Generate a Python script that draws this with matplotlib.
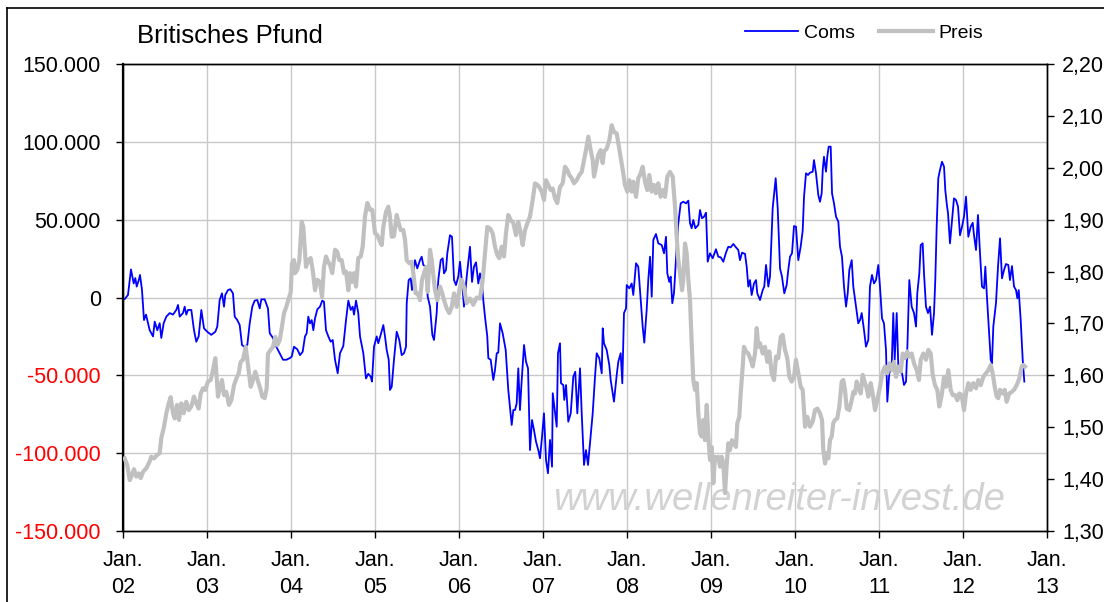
import matplotlib
matplotlib.use("Agg")
import matplotlib.pyplot as plt
from matplotlib.lines import Line2D

plt.rcParams['font.family'] = ['Liberation Sans', 'DejaVu Sans']

# ==== data: x = months since Jan. 2002 ====
# Coms in thousand contracts
coms = [(0.24,-1),(0.71,1.6),(1.14,18),(1.53,9),(1.76,12.5),(1.96,7),(2.24,11),(2.43,14.5),(2.71,5),(3.0,-14.5),(3.29,-11),(3.81,-21),(4.29,-25),(4.53,-15.5),(4.9,-21),(5.24,-16.5),(5.47,-26),(5.81,-16.5),(6.19,-12.3),(6.67,-10),(7.14,-11),(7.61,-8),(7.86,-4.8),(8.1,-12.3),(8.57,-10),(8.81,-5.9),(9.04,-11),(9.29,-8),(9.76,-8),(10.14,-21),(10.47,-28.4),(10.81,-25),(11.19,-8),(11.57,-19.8),(12.04,-22),(12.61,-24),(13.19,-22),(13.47,-18.7),(13.81,-1.6),(14.14,2.7),(14.43,-5.9),(14.61,1.6),(15.0,4.8),(15.33,5.3),(15.71,2.7),(15.96,-12.3),(16.33,-14.5),(16.67,-17.7),(17.0,-30.5),(17.29,-31.6),(17.76,-30.5),(18.1,-16.6),(18.47,-5.9),(18.81,-2),(19.19,-1.6),(19.53,-7),(19.76,-1.2),(20.24,-1.2),(20.71,-7),(20.96,-23),(21.43,-26),(21.9,-31.6),(22.14,-33.7),(22.39,-35.8),(22.86,-40),(23.33,-40),(23.81,-39),(24.1,-38),(24.43,-31.6),(24.9,-33.3),(25.29,-37),(25.67,-34.8),(26.0,-25),(26.24,-23),(26.47,-12.3),(26.71,-16.6),(26.96,-14.5),(27.19,-21),(27.43,-13.4),(27.76,-7.6),(28.14,-5.9),(28.47,-2),(28.71,-2.7),(29.0,-21),(29.33,-25),(29.67,-28.4),(29.96,-27.3),(30.29,-40),(30.67,-48.7),(31.0,-35.8),(31.47,-31.2),(31.86,-14.5),(32.19,-2),(32.53,-8),(32.81,-5.9),(33.0,-11),(33.29,-2),(33.61,-10),(33.86,-25),(34.33,-35.8),(34.71,-52),(35.04,-49),(35.39,-50.9),(35.57,-54),(35.86,-31.6),(36.24,-25),(36.47,-29.4),(36.81,-24),(37.19,-17.7),(37.43,-25),(37.67,-33.7),(37.96,-40),(38.14,-59.4),(38.39,-57.3),(38.71,-40),(39.1,-22),(39.47,-27.3),(39.81,-37),(40.14,-35.8),(40.43,-31.6),(40.53,-3.7),(40.81,11.2),(41.1,12.3),(41.29,4.8),(41.47,15.5),(41.71,24),(42.04,18.7),(42.43,24),(42.67,26.2),(42.9,20.9),(43.29,19.8),(43.53,0.5),(43.86,-5.9),(44.19,-24),(44.43,-27.3),(44.81,-10),(45.04,11.2),(45.39,24),(45.67,25.2),(45.86,15.5),(46.14,17.7),(46.33,28.4),(46.71,40),(47.0,39),(47.29,11.2),(47.57,8),(47.9,13.4),(48.14,23),(48.53,4.8),(48.71,-5.9),(49.1,13.4),(49.57,32.6),(49.86,10),(50.14,19.8),(50.43,22.6),(50.76,9),(51.0,15.5),(51.24,11.2),(51.47,-1.6),(51.71,-12.3),(52.04,-25),(52.19,-39),(52.53,-40),(52.9,-53),(53.14,-46.6),(53.39,-35.8),(53.61,-35.4),(53.86,-16.6),(54.24,-23),(54.67,-33.7),(55.04,-59.4),(55.53,-81.9),(55.76,-72.3),(56.0,-72.3),(56.24,-68),(56.47,-45.5),(56.71,-72.3),(56.96,-53),(57.29,-30.5),(57.57,-41.2),(57.86,-45.5),(58.14,-98),(58.43,-78.7),(58.71,-85.1),(59.0,-92.6),(59.33,-98),(59.57,-103.3),(59.86,-89.4),(60.14,-74.4),(60.43,-104.4),(60.71,-112.9),(61.0,-91.5),(61.29,-108.7),(61.39,-61.5),(61.67,-72.3),(61.96,-83),(62.14,-35.8),(62.43,-29.4),(62.57,-55.1),(62.9,-56.2),(63.04,-65.8),(63.29,-56.2),(63.61,-79.8),(63.96,-74.4),(64.33,-50.9),(64.61,-47.7),(64.9,-74.4),(65.29,-45.5),(65.53,-74.4),(65.86,-107.6),(66.14,-98),(66.43,-107.6),(66.71,-93.7),(67.1,-74.4),(67.43,-50.9),(67.67,-35.8),(68.04,-39),(68.39,-48.7),(68.53,-19.8),(68.71,-29.4),(69.1,-33.7),(69.47,-43.4),(69.67,-53),(70.14,-66.9),(70.53,-49.8),(70.76,-41.2),(71.1,-35.8),(71.33,-55.1),(71.57,-10),(71.86,-7),(71.96,8),(72.33,5.9),(72.67,9),(72.9,1.6),(73.29,22),(73.61,19.8),(73.96,-1.6),(74.24,-18.7),(74.47,-29),(74.81,-8),(75.04,11.2),(75.29,26.2),(75.53,0.5),(75.76,37),(76.14,40.8),(76.47,34.8),(76.96,33.7),(77.29,28.4),(77.57,39),(77.76,15.5),(78.04,10),(78.24,13.4),(78.47,-3.7),(78.71,2.7),(79.1,32.6),(79.33,47.7),(79.67,60.5),(80.04,61.5),(80.43,60.5),(80.76,62.2),(81.0,47.7),(81.24,44.5),(81.47,49.8),(81.76,44.5),(82.19,46.6),(82.43,56.2),(82.71,50.9),(83.0,51.9),(83.29,54.5),(83.53,23),(83.86,28.4),(84.24,25.2),(84.71,31),(85.04,26.2),(85.39,25.8),(85.76,23),(86.14,28.8),(86.47,32.6),(86.81,32.2),(87.19,34.4),(87.57,32.2),(87.9,30.5),(88.14,24),(88.43,28.8),(88.86,28),(89.1,19.8),(89.33,7),(89.57,11.2),(89.81,1.6),(90.14,9),(90.43,11.2),(90.61,2.7),(91.0,-1.6),(91.39,4.8),(91.61,7),(91.86,20.9),(92.19,7),(92.43,13.4),(92.81,57.3),(93.24,76.6),(93.53,57.3),(93.86,18.7),(94.14,13.4),(94.47,2.7),(94.81,8),(95.04,17.7),(95.29,26.2),(95.57,28.4),(95.86,45.9),(96.14,45.5),(96.47,24),(96.81,32.6),(97.1,43),(97.29,64.8),(97.57,79.8),(97.86,78.7),(98.14,80.2),(98.53,80.8),(98.71,88.3),(99.0,79.8),(99.33,65.8),(99.57,61.5),(99.81,66.9),(99.96,81.9),(100.14,90.4),(100.43,80.8),(100.61,90.4),(100.81,96.9),(101.1,96.9),(101.29,66.9),(101.57,60.5),(101.86,51.9),(102.19,48.7),(102.43,32.6),(102.71,26.2),(103.0,7),(103.29,-5.9),(103.53,2.7),(103.76,17.7),(104.1,24),(104.33,7),(104.71,-5.9),(105.04,-16.6),(105.29,-14.5),(105.53,-10),(105.86,-21),(106.14,-31.6),(106.47,-27.3),(106.71,7),(107.0,14.5),(107.29,9),(107.57,11.2),(107.9,20.9),(108.14,7),(108.43,-13.4),(108.71,-16.6),(109.0,-33.7),(109.19,-66.9),(109.47,-48.7),(109.81,-44.5),(110.04,-10),(110.24,-40),(110.53,-10),(110.76,-44.5),(111.0,-47.7),(111.29,-48.7),(111.57,-56.2),(111.86,-54),(112.04,-33.7),(112.33,11.2),(112.67,-5.9),(113.0,-10),(113.29,-18.7),(113.47,2.7),(113.76,15.5),(113.96,33.7),(114.24,34.8),(114.43,15.5),(114.71,-5.9),(115.0,-10),(115.29,-5.9),(115.57,-24),(115.86,-10),(116.04,11.2),(116.24,45.5),(116.47,76.6),(116.71,81.9),(117.0,87.2),(117.29,84),(117.47,69),(117.67,60.5),(117.86,54.1),(118.14,34.8),(118.39,47.7),(118.71,63.7),(119.0,62.6),(119.29,58.3),(119.57,40),(119.86,45.5),(120.14,51.9),(120.43,64.8),(120.76,39),(121.1,45.5),(121.39,48),(121.57,40),(121.86,30.5),(122.14,53),(122.43,28.4),(122.71,7),(123.0,5.9),(123.19,19.8),(123.39,2.7),(123.67,-18.7),(123.96,-40),(124.14,-42.3),(124.33,-18.7),(124.71,-3.7),(125.0,19.8),(125.29,38),(125.57,12.3),(125.86,17.7),(126.14,21.5),(126.47,20.9),(126.71,11.2),(127.0,20.2),(127.29,7),(127.57,4.8),(127.76,-0.5),(127.96,4.8),(128.24,-14.5),(128.53,-40),(128.76,-54)]

# GBP/USD price
preis = [(0.24,1.440),(0.61,1.427),(0.96,1.398),(1.29,1.408),(1.57,1.419),(1.9,1.405),(2.24,1.411),(2.53,1.402),(2.86,1.414),(3.33,1.421),(3.81,1.434),(4.04,1.443),(4.43,1.440),(4.76,1.445),(5.24,1.450),(5.47,1.479),(5.86,1.501),(6.19,1.527),(6.53,1.546),(6.81,1.558),(7.14,1.527),(7.39,1.517),(7.71,1.543),(8.0,1.514),(8.33,1.546),(8.67,1.527),(9.04,1.549),(9.39,1.533),(9.76,1.540),(10.14,1.559),(10.47,1.546),(10.81,1.536),(11.1,1.565),(11.43,1.575),(11.76,1.572),(12.14,1.588),(12.53,1.591),(12.86,1.610),(13.19,1.633),(13.57,1.559),(13.81,1.575),(14.14,1.591),(14.43,1.562),(14.76,1.568),(15.14,1.543),(15.47,1.552),(15.86,1.581),(16.19,1.594),(16.53,1.604),(16.81,1.626),(17.14,1.630),(17.53,1.655),(17.86,1.620),(18.24,1.578),(18.57,1.591),(18.9,1.607),(19.29,1.588),(19.61,1.575),(19.9,1.559),(20.24,1.556),(20.53,1.575),(20.71,1.642),(21.1,1.649),(21.43,1.655),(21.76,1.674),(22.04,1.658),(22.39,1.668),(22.71,1.694),(23.0,1.720),(23.33,1.732),(23.67,1.748),(23.96,1.760),(24.14,1.816),(24.43,1.822),(24.57,1.797),(24.9,1.803),(25.19,1.822),(25.53,1.896),(25.76,1.886),(26.14,1.809),(26.47,1.822),(26.81,1.826),(27.1,1.803),(27.43,1.764),(27.76,1.784),(28.14,1.780),(28.43,1.751),(28.71,1.809),(29.0,1.829),(29.29,1.819),(29.57,1.813),(29.9,1.797),(30.29,1.842),(30.61,1.838),(30.9,1.822),(31.24,1.822),(31.57,1.797),(31.86,1.800),(32.19,1.764),(32.43,1.797),(32.71,1.780),(33.0,1.797),(33.29,1.771),(33.61,1.826),(33.96,1.829),(34.24,1.848),(34.57,1.906),(34.9,1.932),(35.29,1.919),(35.61,1.919),(36.0,1.874),(36.33,1.870),(36.71,1.858),(36.96,1.851),(37.19,1.886),(37.57,1.915),(37.9,1.925),(38.14,1.906),(38.39,1.867),(38.71,1.868),(39.1,1.909),(39.33,1.896),(39.67,1.880),(40.04,1.880),(40.29,1.861),(40.53,1.822),(40.9,1.816),(41.24,1.819),(41.47,1.797),(41.81,1.758),(42.1,1.758),(42.43,1.745),(42.71,1.784),(43.0,1.797),(43.29,1.809),(43.53,1.761),(43.86,1.842),(44.1,1.822),(44.33,1.793),(44.57,1.764),(44.9,1.745),(45.29,1.771),(45.61,1.758),(45.86,1.745),(46.24,1.729),(46.61,1.720),(46.96,1.732),(47.29,1.758),(47.67,1.732),(48.04,1.764),(48.39,1.784),(48.71,1.770),(49.1,1.739),(49.57,1.748),(50.04,1.736),(50.53,1.750),(51.0,1.748),(51.39,1.784),(51.71,1.835),(52.04,1.886),(52.43,1.883),(52.81,1.874),(53.14,1.848),(53.47,1.832),(53.76,1.826),(54.1,1.848),(54.43,1.829),(54.71,1.874),(55.04,1.909),(55.39,1.899),(55.76,1.894),(56.14,1.870),(56.47,1.896),(56.81,1.874),(57.1,1.851),(57.43,1.880),(57.76,1.893),(58.14,1.906),(58.53,1.938),(58.86,1.970),(59.19,1.967),(59.47,1.963),(59.81,1.954),(60.14,1.938),(60.43,1.976),(60.76,1.967),(61.1,1.957),(61.39,1.960),(61.71,1.941),(62.04,1.932),(62.43,1.963),(62.81,1.970),(63.14,2.002),(63.47,1.996),(63.76,1.986),(64.1,1.980),(64.43,1.970),(64.81,1.976),(65.19,1.986),(65.53,1.992),(65.86,2.015),(66.14,2.034),(66.47,2.060),(66.81,2.034),(67.1,2.015),(67.29,1.983),(67.57,2.002),(67.9,2.025),(68.24,2.034),(68.53,2.009),(68.71,2.031),(69.1,2.037),(69.47,2.053),(69.81,2.082),(70.14,2.069),(70.53,2.066),(70.76,2.047),(71.0,2.028),(71.39,1.996),(71.71,1.967),(72.04,1.954),(72.33,1.976),(72.67,1.954),(72.9,1.973),(73.29,1.944),(73.61,1.980),(73.86,1.986),(74.24,2.002),(74.57,1.973),(74.9,1.957),(75.19,1.986),(75.53,1.954),(75.86,1.967),(76.14,1.951),(76.47,1.970),(76.81,1.944),(77.1,1.957),(77.43,1.944),(77.76,1.983),(78.14,1.992),(78.53,1.983),(78.86,1.925),(79.1,1.867),(79.33,1.822),(79.57,1.797),(79.86,1.764),(80.04,1.784),(80.29,1.854),(80.53,1.835),(80.76,1.784),(81.0,1.745),(81.24,1.662),(81.47,1.591),(81.71,1.572),(81.96,1.585),(82.19,1.527),(82.43,1.488),(82.67,1.482),(82.9,1.514),(83.14,1.475),(83.39,1.543),(83.61,1.482),(83.86,1.437),(84.1,1.462),(84.33,1.392),(84.57,1.443),(84.81,1.437),(85.04,1.443),(85.29,1.424),(85.53,1.443),(85.76,1.430),(86.0,1.373),(86.24,1.427),(86.47,1.469),(86.71,1.456),(87.0,1.475),(87.29,1.469),(87.57,1.462),(87.76,1.508),(88.04,1.520),(88.24,1.565),(88.53,1.617),(88.71,1.655),(89.0,1.646),(89.33,1.642),(89.67,1.630),(89.96,1.617),(90.29,1.642),(90.53,1.691),(90.76,1.655),(91.0,1.662),(91.39,1.642),(91.71,1.655),(92.04,1.626),(92.33,1.646),(92.67,1.604),(93.0,1.591),(93.29,1.636),(93.61,1.633),(93.96,1.674),(94.24,1.678),(94.57,1.649),(94.9,1.633),(95.19,1.597),(95.53,1.588),(95.86,1.597),(96.14,1.630),(96.47,1.604),(96.81,1.578),(97.1,1.572),(97.43,1.501),(97.76,1.520),(98.14,1.501),(98.53,1.511),(98.86,1.533),(99.19,1.536),(99.57,1.527),(99.86,1.514),(100.04,1.456),(100.29,1.430),(100.53,1.450),(100.76,1.440),(101.0,1.475),(101.24,1.482),(101.47,1.508),(101.71,1.514),(102.04,1.517),(102.33,1.540),(102.67,1.588),(102.9,1.591),(103.14,1.572),(103.39,1.536),(103.76,1.533),(104.1,1.552),(104.33,1.568),(104.57,1.565),(104.81,1.588),(105.04,1.578),(105.39,1.565),(105.67,1.601),(106.0,1.585),(106.24,1.575),(106.47,1.559),(106.81,1.585),(107.1,1.565),(107.43,1.533),(107.76,1.552),(108.14,1.578),(108.53,1.607),(108.86,1.617),(109.19,1.604),(109.47,1.623),(109.81,1.610),(110.14,1.626),(110.43,1.597),(110.76,1.617),(111.1,1.607),(111.39,1.642),(111.71,1.633),(112.04,1.646),(112.33,1.636),(112.67,1.642),(113.0,1.623),(113.39,1.610),(113.71,1.591),(113.96,1.630),(114.33,1.642),(114.71,1.630),(115.04,1.649),(115.39,1.642),(115.67,1.601),(116.0,1.581),(116.33,1.572),(116.61,1.540),(116.96,1.562),(117.29,1.597),(117.57,1.578),(117.9,1.610),(118.24,1.572),(118.53,1.562),(118.86,1.562),(119.19,1.552),(119.47,1.565),(119.81,1.562),(120.14,1.533),(120.43,1.565),(120.76,1.585),(121.1,1.572),(121.47,1.585),(121.86,1.575),(122.19,1.591),(122.53,1.581),(122.9,1.597),(123.29,1.604),(123.61,1.610),(123.96,1.620),(124.24,1.604),(124.53,1.578),(124.81,1.559),(125.04,1.556),(125.29,1.572),(125.67,1.565),(125.96,1.572),(126.24,1.549),(126.61,1.565),(126.96,1.568),(127.29,1.572),(127.67,1.581),(128.04,1.594),(128.39,1.617),(128.62,1.620),(128.86,1.617)]

year_ticks = [0, 12, 24, 36, 48, 60, 72, 84, 96, 108, 120, 132]
year_labels = ['Jan.\n02', 'Jan.\n03', 'Jan.\n04', 'Jan.\n05', 'Jan.\n06', 'Jan.\n07',
               'Jan.\n08', 'Jan.\n09', 'Jan.\n10', 'Jan.\n11', 'Jan.\n12', 'Jan.\n13']
left_ticks = [-150000, -100000, -50000, 0, 50000, 100000, 150000]
right_ticks = [1.30, 1.40, 1.50, 1.60, 1.70, 1.80, 1.90, 2.00, 2.10, 2.20]

coms_x = [p[0] for p in coms]
coms_y = [p[1] * 1000 for p in coms]
preis_x = [p[0] for p in preis]
preis_y = [p[1] for p in preis]

W, H = 1104, 602
fig = plt.figure(figsize=(W / 100, H / 100), dpi=100)
ax = fig.add_axes([123 / W, 1 - 531 / H, (1047 - 123) / W, (531 - 64) / H])
ax2 = ax.twinx()

ax.plot(coms_x, coms_y, color='#0000ff', lw=1.3, zorder=3)
ax2.plot(preis_x, preis_y, color='#c0c0c0', lw=3.0, zorder=3)

ax.set_xlim(0, 132)
ax.set_ylim(-150000, 150000)
ax2.set_ylim(1.30, 2.20)

ax.set_xticks(year_ticks)
ax.set_xticklabels(year_labels)
for lbl in ax.get_xticklabels():
    lbl.set_linespacing(1.35)

ax.set_yticks(left_ticks)
ax.set_yticklabels([f"{v:,.0f}".replace(',', '.') for v in left_ticks])
for v, lbl in zip(left_ticks, ax.get_yticklabels()):
    lbl.set_color('#ff0000' if v < 0 else 'black')

ax2.set_yticks(right_ticks)
ax2.set_yticklabels([f"{v:.2f}".replace('.', ',') for v in right_ticks])

ax.tick_params(axis='y', direction='out', length=5, width=1, pad=11, labelsize=15.5)
ax.tick_params(axis='x', direction='out', length=5, width=1, pad=9, labelsize=15.5)
ax2.tick_params(axis='y', direction='out', length=5, width=1, pad=6, labelsize=15.5)

ax.set_axisbelow(True)
ax.grid(True, color='#c8c8c8', lw=1)
for a in (ax, ax2):
    for s in a.spines.values():
        s.set_color('black')
        s.set_linewidth(1)
ax.spines['left'].set_linewidth(1.6)

# watermark
ax.text(0.71, 0.066, 'www.wellenreiter-invest.de', transform=ax.transAxes,
        ha='center', va='center', fontsize=27.5, style='italic', color='#d2d2d2', zorder=1)

# title and legend
fig.text(137 / W, 1 - 43 / H, 'Britisches Pfund', fontsize=18.5, ha='left', va='baseline')
handles = [Line2D([], [], color='#0000ff', lw=1.3), Line2D([], [], color='#c0c0c0', lw=3.0)]
fig.legend(handles, ['Coms', 'Preis'], loc='center', bbox_to_anchor=(864 / W, 1 - 33 / H),
           ncol=2, frameon=False, fontsize=14, handlelength=2.75, handletextpad=0.3,
           columnspacing=1.25, borderpad=0)

# outer frame
fig.add_artist(Line2D([7 / W, 7 / W], [0, 1 - 8 / H], color='black', lw=1.2, transform=fig.transFigure))
fig.add_artist(Line2D([7 / W, 1], [1 - 8 / H, 1 - 8 / H], color='black', lw=1.2, transform=fig.transFigure))

fig.savefig('out.png', dpi=100)
